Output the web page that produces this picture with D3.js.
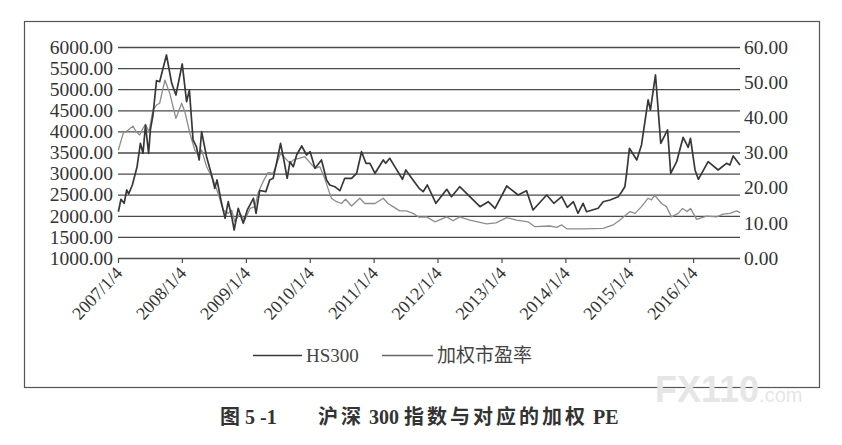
<!DOCTYPE html>
<html>
<head>
<meta charset="utf-8">
<script src="https://cdn.jsdelivr.net/npm/d3@7"></script>
<style>
  html, body { margin: 0; padding: 0; background: #fff; }
  svg { display: block; }
</style>
</head>
<body>
<svg id="chart" width="842" height="445"></svg>
<script>
// HS300 index (left axis)
const hsDates = [
  "2007-01-06","2007-01-21","2007-02-08","2007-02-23","2007-03-06","2007-03-27","2007-04-23","2007-05-12","2007-05-27","2007-06-10",
  "2007-06-28","2007-07-08","2007-07-23","2007-08-12","2007-08-30","2007-10-08","2007-11-07","2007-12-01","2008-01-06","2008-01-31",
  "2008-02-16","2008-03-08","2008-03-27","2008-04-12","2008-04-26","2008-05-24","2008-06-22","2008-07-10","2008-07-23","2008-08-18",
  "2008-09-07","2008-09-25","2008-10-15","2008-10-29","2008-11-21","2008-12-20","2009-01-12","2009-02-16","2009-03-03","2009-03-24",
  "2009-04-28","2009-05-20","2009-06-09","2009-06-28","2009-07-21","2009-08-09","2009-08-28","2009-09-13","2009-10-02","2009-10-21",
  "2009-11-19","2009-12-17","2010-01-06","2010-02-03","2010-03-12","2010-04-10","2010-04-28","2010-05-27","2010-06-25","2010-07-23",
  "2010-08-31","2010-09-29","2010-10-27","2010-11-21","2010-12-14","2011-01-12","2011-02-28","2011-03-14","2011-04-06","2011-05-05",
  "2011-06-18","2011-07-07","2011-08-17","2011-09-21","2011-10-14","2011-11-07","2011-12-26","2012-02-26","2012-03-24","2012-05-10",
  "2012-07-07","2012-09-03","2012-10-20","2012-11-28","2013-02-03","2013-04-09","2013-05-27","2013-07-03","2013-09-19","2013-10-30",
  "2013-12-14","2014-01-15","2014-02-19","2014-03-17","2014-04-15","2014-05-05","2014-07-10","2014-08-08","2014-09-16","2014-11-02",
  "2014-11-22","2014-12-10","2014-12-20","2015-01-05","2015-02-16","2015-03-15","2015-04-22","2015-05-05","2015-06-03","2015-07-03",
  "2015-08-11","2015-08-29","2015-10-02","2015-11-08","2015-12-07","2015-12-20","2016-01-15","2016-02-03","2016-02-22","2016-03-30",
  "2016-05-26","2016-07-13","2016-08-01","2016-08-20","2016-09-28"
];
const hsValues = [
  2097, 2391, 2296, 2612, 2517, 2730, 3164, 3718, 3481, 4152,
  3481, 4034, 4389, 5202, 5178, 5811, 5140, 4863, 5598, 4704,
  4982, 3797, 3638, 3323, 3993, 3401, 2967, 2652, 2849, 2296,
  1941, 2334, 1979, 1664, 2178, 1822, 2138, 2415, 2059, 2600,
  2571, 2849, 2889, 3244, 3718, 3323, 2889, 3282, 3164, 3441,
  3654, 3441, 3519, 3126, 3323, 2849, 2730, 2690, 2595, 2889,
  2889, 3007, 3519, 3244, 3244, 3007, 3323, 3244, 3363, 3164,
  2865, 3086, 2849, 2652, 2571, 2730, 2296, 2628, 2453, 2690,
  2453, 2216, 2334, 2178, 2706, 2493, 2595, 2138, 2493, 2296,
  2453, 2202, 2334, 2059, 2296, 2097, 2178, 2334, 2375, 2453,
  2571, 2690, 3007, 3600, 3323, 3678, 4745, 4508, 5337, 3718,
  4034, 3007, 3282, 3860, 3623, 3836, 3086, 2865, 3007, 3282,
  3086, 3244, 3204, 3418, 3204
];

// weighted PE (right axis)
const peDates = [
  "2007-01-06","2007-02-03","2007-03-04","2007-03-30","2007-04-19","2007-05-08","2007-05-27","2007-06-10","2007-06-30","2007-07-23",
  "2007-08-12","2007-08-30","2007-09-29","2007-10-27","2007-12-01","2008-01-03","2008-01-21","2008-02-19","2008-03-18","2008-04-06",
  "2008-04-26","2008-05-24","2008-07-01","2008-07-29","2008-08-27","2008-09-25","2008-10-15","2008-11-02","2008-11-30","2008-12-29",
  "2009-01-28","2009-02-25","2009-03-14","2009-04-12","2009-05-11","2009-06-09","2009-07-21","2009-09-13","2009-10-02","2009-11-09",
  "2009-12-07","2009-12-31","2010-02-03","2010-03-02","2010-03-30","2010-04-18","2010-05-08","2010-06-06","2010-07-04","2010-07-28",
  "2010-08-31","2010-10-17","2010-11-15","2011-01-12","2011-02-28","2011-03-27","2011-04-25","2011-06-02","2011-07-10","2011-08-17",
  "2011-09-21","2011-11-03","2011-12-20","2012-02-26","2012-04-02","2012-05-10","2012-07-07","2012-10-11","2012-12-03","2013-02-03",
  "2013-03-30","2013-06-05","2013-07-13","2013-10-08","2013-11-15","2013-12-14","2014-01-12","2014-04-15","2014-08-08","2014-10-04",
  "2014-11-12","2015-01-09","2015-02-06","2015-03-15","2015-04-22","2015-05-11","2015-05-29","2015-07-07","2015-08-05","2015-09-02",
  "2015-10-11","2015-11-05","2015-12-01","2015-12-20","2016-01-24","2016-03-21","2016-05-17","2016-06-24","2016-08-01","2016-09-09",
  "2016-09-28"
];
const peValues = [
  30.7, 35.5, 36.4, 37.5, 35.9, 35.0, 36.9, 38.0, 35.9, 42.1,
  43.5, 44.0, 50.6, 46.8, 39.7, 44.0, 41.6, 35.4, 30.7, 29.3,
  30.7, 26.0, 22.2, 18.4, 13.6, 12.7, 13.6, 10.3, 12.7, 10.8,
  14.1, 14.6, 18.4, 21.7, 24.3, 24.1, 29.8, 26.9, 27.9, 28.4,
  28.8, 27.4, 25.5, 26.0, 22.7, 19.8, 17.0, 16.0, 15.5, 16.7,
  14.8, 17.0, 15.5, 15.5, 17.0, 15.5, 14.6, 13.4, 13.4, 12.7,
  11.6, 11.7, 10.3, 11.7, 10.6, 11.7, 10.8, 9.7, 10.0, 11.5,
  10.8, 10.3, 8.9, 9.1, 8.7, 9.4, 8.3, 8.3, 8.4, 9.4,
  10.8, 13.2, 12.7, 14.6, 17.0, 16.5, 17.9, 15.5, 14.6, 11.7,
  12.7, 14.1, 13.2, 14.1, 11.0, 11.9, 11.7, 12.5, 12.7, 13.4,
  12.9
];

// axis ticks
const xTickDates = ["2007-01-04","2008-01-04","2009-01-04","2010-01-04","2011-01-04",
                    "2012-01-04","2013-01-04","2014-01-04","2015-01-04","2016-01-04"];
const leftTicks = [1000, 1500, 2000, 2500, 3000, 3500, 4000, 4500, 5000, 5500, 6000];
const rightTicks = [0, 10, 20, 30, 40, 50, 60];
const seriesNames = ["HS300", "加权市盈率"];
const captionLead = "图 5 -1";
const captionParts = ["沪深", " 300 ", "指数与对应的加权", " PE"];

const parse = d3.timeParse("%Y-%m-%d");
const serif = "'Liberation Serif', 'Times New Roman', serif";
const cjk = "'Noto Sans CJK SC', sans-serif";

const svg = d3.select("#chart");

// outer frame
svg.append("rect")
    .attr("x", 24.5).attr("y", 21.5)
    .attr("width", 795).attr("height", 366)
    .attr("fill", "none")
    .attr("stroke", "#555")
    .attr("stroke-width", 1.2);

const plotL = 118, plotR = 740, plotT = 47, plotB = 258;

const x = d3.scaleTime()
    .domain([parse("2007-01-04"), parse("2016-09-28")])
    .range([plotL, plotR]);
const yL = d3.scaleLinear().domain([1000, 6000]).range([plotB, plotT]);
const yR = d3.scaleLinear().domain([0, 60]).range([plotB, plotT]);

// left axis + horizontal grid
const gL = svg.append("g")
    .attr("transform", `translate(${plotL},0)`)
    .call(d3.axisLeft(yL)
        .tickValues(leftTicks)
        .tickFormat(d3.format(".2f"))
        .tickSizeInner(-(plotR - plotL))
        .tickSizeOuter(0)
        .tickPadding(5));
gL.select(".domain").remove();
gL.selectAll(".tick line")
    .attr("x1", 0)
    .attr("stroke", "#4a4a4a")
    .attr("stroke-width", 1.3);
gL.selectAll(".tick text")
    .attr("x", -5)
    .attr("font-family", serif)
    .attr("font-size", 19.5)
    .attr("fill", "#333");

// right axis labels
const gR = svg.append("g")
    .attr("transform", `translate(${plotR},0)`)
    .call(d3.axisRight(yR)
        .tickValues(rightTicks)
        .tickFormat(d3.format(".2f"))
        .tickSize(0)
        .tickPadding(4));
gR.select(".domain").remove();
gR.selectAll(".tick text")
    .attr("font-family", serif)
    .attr("font-size", 19.5)
    .attr("fill", "#333");

// bottom axis ticks and rotated labels
const gX = svg.append("g")
    .attr("transform", `translate(0,${plotB})`)
    .call(d3.axisBottom(x)
        .tickValues(xTickDates.map(parse))
        .tickFormat(d3.timeFormat("%Y/%-m/%-d"))
        .tickSizeInner(5)
        .tickSizeOuter(0));
gX.select(".domain").remove();
gX.selectAll(".tick line")
    .attr("stroke", "#4a4a4a")
    .attr("stroke-width", 1.2);
gX.selectAll(".tick text")
    .attr("font-family", serif)
    .attr("font-size", 18)
    .attr("fill", "#333")
    .attr("text-anchor", "end")
    .attr("y", 0).attr("dy", 0)
    .attr("transform", "translate(5,16) rotate(-47)");

// series
const hsData = hsDates.map((d, i) => ({ date: parse(d), value: hsValues[i] }));
const peData = peDates.map((d, i) => ({ date: parse(d), value: peValues[i] }));

svg.append("path")
    .datum(peData)
    .attr("fill", "none")
    .attr("stroke", "#8c8c8c")
    .attr("stroke-width", 1.3)
    .attr("stroke-linejoin", "round")
    .attr("d", d3.line().x(d => x(d.date)).y(d => yR(d.value)));

svg.append("path")
    .datum(hsData)
    .attr("fill", "none")
    .attr("stroke", "#383838")
    .attr("stroke-width", 1.7)
    .attr("stroke-linejoin", "round")
    .attr("d", d3.line().x(d => x(d.date)).y(d => yL(d.value)));

// legend
const legend = svg.append("g");
const legendItems = [
    { name: seriesNames[0], x0: 253, x1: 302, color: "#383838", font: serif, size: 19 },
    { name: seriesNames[1], x0: 382, x1: 433, color: "#666", font: cjk, size: 19 }
];
legendItems.forEach(it => {
    legend.append("line")
        .attr("x1", it.x0).attr("x2", it.x1)
        .attr("y1", 355.5).attr("y2", 355.5)
        .attr("stroke", it.color)
        .attr("stroke-width", 1.3);
    legend.append("text")
        .attr("x", it.x1 + 4)
        .attr("y", 362)
        .attr("font-family", it.font)
        .attr("font-size", it.size)
        .attr("fill", "#444")
        .text(it.name);
});

// watermark
const wm = svg.append("text")
    .attr("x", 655).attr("y", 402)
    .attr("font-family", "'Liberation Sans', Arial, sans-serif")
    .attr("fill", "#e6e6e6");
wm.append("tspan").attr("font-size", 36).attr("font-weight", "bold").text("FX110");
wm.append("tspan").attr("font-size", 20).text(".com");

// caption
svg.append("text")
    .attr("x", 220).attr("y", 424)
    .attr("font-family", serif + ", " + cjk)
    .attr("font-size", 20)
    .attr("font-weight", "bold")
    .attr("fill", "#333")
    .text(captionLead);
const cap = svg.append("text")
    .attr("x", 318).attr("y", 424)
    .attr("font-family", serif + ", " + cjk)
    .attr("font-size", 20)
    .attr("font-weight", "bold")
    .attr("fill", "#333");
captionParts.forEach(p => {
    const isCjk = /[\u4e00-\u9fff]/.test(p);
    cap.append("tspan")
        .attr("letter-spacing", isCjk ? 3 : 0)
        .text(p);
});
</script>
</body>
</html>
